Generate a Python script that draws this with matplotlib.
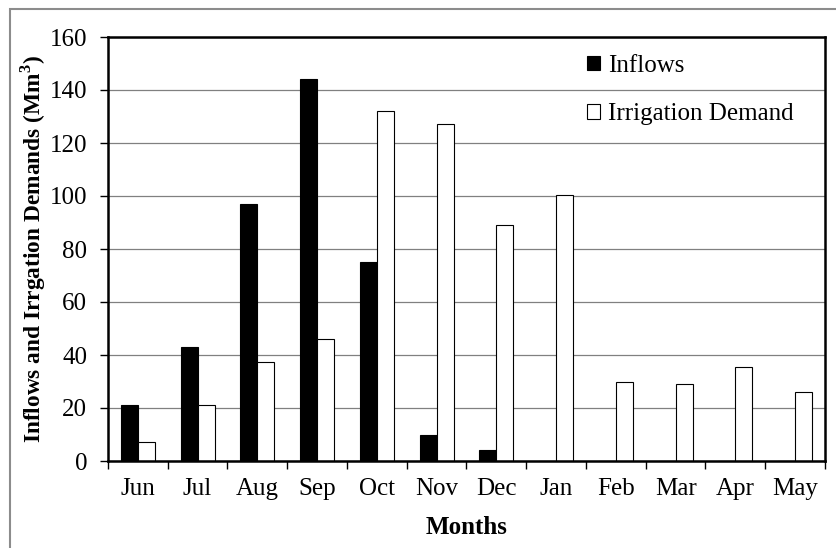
import matplotlib

matplotlib.use("Agg")
import matplotlib.pyplot as plt
import numpy as np
from matplotlib.patches import Rectangle

months = ["Jun", "Jul", "Aug", "Sep", "Oct", "Nov", "Dec", "Jan", "Feb", "Mar", "Apr", "May"]
inflows = [21, 43, 97, 144, 75, 10, 4, 0, 0, 0, 0, 0]
irrigation_demand = [7, 21, 37.5, 46, 132, 127, 89, 100.5, 30, 29, 35.5, 26]

plt.rcParams["font.family"] = ["Liberation Serif", "DejaVu Serif"]
plt.rcParams["mathtext.fontset"] = "custom"
plt.rcParams["mathtext.rm"] = "Liberation Serif"
plt.rcParams["mathtext.bf"] = "Liberation Serif:bold"

fig = plt.figure(figsize=(8.37, 5.48), dpi=100)
ax = fig.add_axes([108 / 837, 1 - 461 / 548, (825 - 108) / 837, (461 - 37) / 548])

x = np.arange(len(months))
w = 0.285
ax.bar(x - w / 2, inflows, w, color="black", edgecolor="black", linewidth=0.8,
       label="Inflows", zorder=3)
ax.bar(x + w / 2, irrigation_demand, w, color="white", edgecolor="black", linewidth=0.8,
       label="Irrigation Demand", zorder=3)

ax.set_xlim(-0.5, len(months) - 0.5)
ax.set_ylim(0, 160)
ax.set_yticks(range(0, 161, 20))
ax.set_xticks(x)
ax.set_xticklabels(months)
ax.set_xticks(np.arange(-0.5, len(months), 1), minor=True)
ax.tick_params(axis="x", which="major", length=0, pad=12, labelsize=18)
ax.tick_params(axis="x", which="minor", length=6, width=1, color="black")
ax.tick_params(axis="y", length=6, width=1, labelsize=18, pad=9)
ax.grid(axis="y", color="#808080", linewidth=0.9, zorder=0)
ax.set_axisbelow(True)
for side in ax.spines.values():
    side.set_linewidth(1.8)
    side.set_zorder(4)

ax.set_xlabel("Months", fontsize=18, fontweight="bold", labelpad=12)
ax.set_ylabel(r"Inflows and Irrgation Demands (Mm$^\mathbf{3}$)", fontsize=16.8,
              fontweight="bold", labelpad=1)

ax.legend(loc="upper left", bbox_to_anchor=(587 / 837, 1 - 55 / 548),
          bbox_transform=fig.transFigure, frameon=False, fontsize=18,
          borderpad=0, borderaxespad=0,
          handlelength=0.5, handleheight=0.5, handletextpad=0.35, labelspacing=1.05)

# thin gray frame around the chart area (cropped on right and bottom)
fig.patches.append(Rectangle((10 / 837, -0.05), 1.1, 1 - 9 / 548 + 0.05,
                             transform=fig.transFigure, fill=False,
                             edgecolor="#8c8c8c", linewidth=1.5))

fig.savefig("out.png", dpi=100)
